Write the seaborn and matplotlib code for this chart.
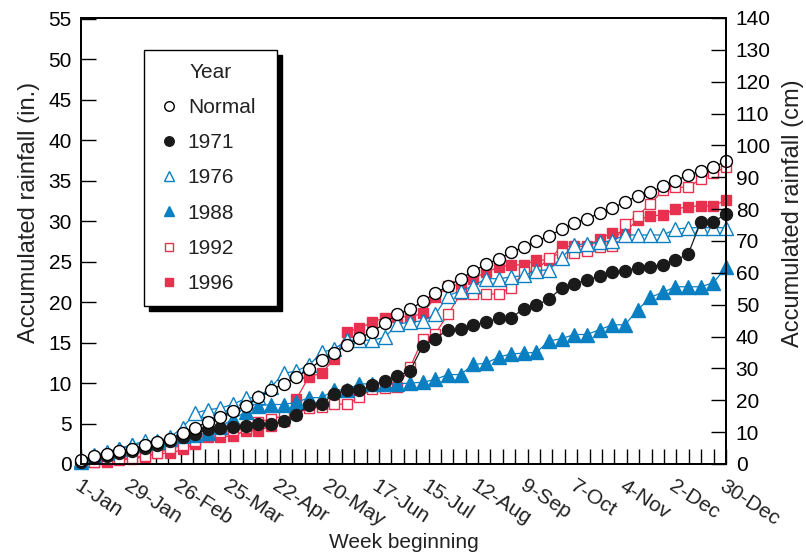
import numpy as np
import pandas as pd
import matplotlib
matplotlib.use("Agg")
import matplotlib.pyplot as plt
from matplotlib.lines import Line2D
import seaborn as sns

# ---------------- data (accumulated rainfall, inches, weekly) ----------------
tick_labels = ["1-Jan", "29-Jan", "26-Feb", "25-Mar", "22-Apr", "20-May", "17-Jun",
               "15-Jul", "12-Aug", "9-Sep", "7-Oct", "4-Nov", "2-Dec", "30-Dec"]

normal = [0.5, 0.93, 1.2, 1.65, 1.9, 2.3, 2.7, 3.1, 3.8, 4.5, 5.2, 5.8, 6.6, 7.2,
          8.25, 9.15, 9.9, 10.7, 11.75, 12.8, 13.7, 14.7, 15.6, 16.3, 17.4, 18.5,
          19.1, 20.1, 21.1, 22.0, 22.9, 23.8, 24.7, 25.3, 26.2, 26.8, 27.5, 28.2,
          29.0, 29.8, 30.3, 31.0, 31.6, 32.4, 33.1, 33.6, 34.3, 35.0, 35.7, 36.2,
          36.7, 37.4]
y1971 = [0.3, 0.7, 1.0, 1.4, 1.6, 2.0, 2.4, 2.8, 3.3, 3.7, 4.3, 4.5, 4.6, 4.75,
         4.9, 4.9, 5.3, 6.0, 7.35, 7.4, 8.7, 9.1, 9.1, 9.7, 10.3, 10.9, 11.5, 14.6,
         15.5, 16.6, 16.7, 17.2, 17.5, 18.05, 18.05, 19.2, 19.6, 20.4, 21.75, 22.3,
         22.7, 23.2, 23.7, 23.9, 24.2, 24.4, 24.6, 25.2, 25.9, 29.9, 29.9, 30.9]
y1976 = [0.5, 1.1, 1.5, 1.9, 2.4, 2.8, 2.8, 3.3, 4.5, 6.3, 6.7, 6.9, 7.4, 8.1,
         8.3, 9.5, 11.2, 11.5, 12.2, 13.8, 14.2, 15.3, 15.3, 15.3, 15.65, 17.3,
         17.5, 17.7, 18.5, 20.8, 21.4, 22.0, 22.9, 22.9, 23.1, 23.3, 23.9, 24.0,
         25.5, 27.1, 27.2, 27.4, 27.6, 28.3, 28.3, 28.3, 28.3, 29.0, 29.2, 29.2,
         29.2, 29.2]
y1988 = [0.3, 1.0, 1.4, 1.8, 2.3, 2.6, 2.7, 3.1, 3.5, 3.6, 3.8, 4.6, 5.6, 6.4,
         7.2, 7.35, 7.35, 7.6, 8.2, 8.2, 9.1, 9.2, 9.9, 9.9, 9.9, 9.9, 10.0, 10.1,
         10.45, 11.05, 11.05, 12.3, 12.45, 13.2, 13.6, 13.7, 13.8, 15.2, 15.5,
         16.0, 16.0, 16.6, 17.2, 17.2, 19.0, 20.6, 21.2, 21.9, 21.9, 21.9, 22.4,
         24.3]
y1992 = [0.1, 0.3, 0.5, 0.65, 0.75, 1.04, 1.3, 1.95, 2.3, 2.8, 3.9, 3.9, 4.2, 4.4,
         5.2, 5.6, 5.9, 6.2, 6.9, 7.0, 7.4, 7.4, 8.25, 9.3, 9.4, 9.5, 11.95, 15.4,
         16.1, 18.5, 21.0, 21.0, 21.0, 21.0, 21.8, 23.7, 23.9, 25.5, 26.1, 26.1,
         26.3, 26.8, 27.0, 29.7, 30.7, 32.1, 33.8, 34.2, 34.2, 35.2, 35.9, 36.7]
y1996 = [0.1, 0.2, 0.3, 0.5, 0.6, 0.9, 1.3, 1.3, 1.8, 2.5, 3.3, 3.3, 3.5, 4.1,
         4.1, 4.7, 5.3, 8.0, 10.8, 11.2, 13.0, 16.3, 16.8, 17.5, 18.1, 18.2, 18.2,
         18.6, 20.6, 22.0, 22.2, 22.9, 23.7, 24.3, 24.6, 24.6, 25.2, 25.2, 26.9,
         26.9, 26.9, 27.8, 28.6, 28.6, 30.2, 30.6, 30.8, 31.5, 31.8, 31.9, 31.9,
         32.6]

series_names = ["Normal", "1971", "1976", "1988", "1992", "1996"]
series_values = [normal, y1971, y1976, y1988, y1992, y1996]

# ---------------- styles ----------------
BLUE = "#0a7fc2"
RED = "#e8304f"
styles = {
    "Normal": dict(color="black", marker="o", mfc="white", ms=8.6),
    "1971":   dict(color="#1a1a1a", marker="o", mfc="#1a1a1a", ms=8.6),
    "1976":   dict(color=BLUE, marker="^", mfc="white", ms=9.8),
    "1988":   dict(color=BLUE, marker="^", mfc=BLUE, ms=9.8),
    "1992":   dict(color=RED, marker="s", mfc="white", ms=7.8),
    "1996":   dict(color=RED, marker="s", mfc=RED, ms=7.8),
}

sns.set_theme(style="white")
plt.rcParams["font.family"] = ["Liberation Sans", "DejaVu Sans"]

fig = plt.figure(figsize=(8.06, 5.55), dpi=100)
ax = fig.add_axes([0.1011, 0.164, 0.7996, 0.8036])

weeks = np.arange(len(normal))
df = pd.DataFrame({"week": np.tile(weeks, len(series_names)),
                   "rain": np.concatenate(series_values),
                   "year": np.repeat(series_names, len(weeks))})

draw_order = ["1996", "1992", "1988", "1976", "1971", "Normal"]
for z, name in enumerate(draw_order):
    st = styles[name]
    sub = df[df["year"] == name]
    sns.lineplot(data=sub, x="week", y="rain", ax=ax, color=st["color"],
                 marker=st["marker"], markersize=st["ms"],
                 markerfacecolor=st["mfc"], markeredgecolor=st["color"],
                 markeredgewidth=1.0, linewidth=0.9, zorder=3 + z,
                 legend=False, clip_on=False)

n_wk = len(normal) - 1
ax.set_xlim(0, n_wk)
ymax_cm = 140
ax.set_ylim(0, ymax_cm / 2.54)
ax.set_yticks(np.arange(0, 56, 5))
ax.set_yticklabels([str(v) for v in range(0, 56, 5)])

major_pos = [n_wk * 4 * i / 52 for i in range(len(tick_labels))]
minor_pos = [n_wk * j / 52 for j in range(53)]
ax.set_xticks(major_pos)
ax.set_xticks(minor_pos, minor=True)
ax.set_xticklabels(tick_labels, rotation=-33, ha="left", va="top",
                   rotation_mode="anchor")

ax.tick_params(axis="x", which="both", direction="in", length=10.8, width=1.0,
               colors="black", labelsize=15, pad=9, bottom=True, top=False)
ax.tick_params(axis="y", which="both", direction="in", length=10.8, width=1.0,
               colors="black", labelsize=15, pad=7, left=True, right=False)
for lab in ax.get_xticklabels():
    lab.set_color("#222222")

for sp in ax.spines.values():
    sp.set_visible(True)
    sp.set_color("black")
    sp.set_linewidth(1.3)

ax.set_xlabel("Week beginning", fontsize=15, color="#222222", labelpad=2)
ax.set_ylabel("Accumulated rainfall (in.)", fontsize=17, color="#222222")
ax.yaxis.set_label_coords(-0.064, 0.563)

ax2 = ax.twinx()
ax2.set_ylim(0, ymax_cm)
ax2.set_yticks(np.arange(0, 141, 10))
ax2.tick_params(axis="y", direction="in", length=10.8, width=1.0, colors="black",
                labelsize=15, pad=7)
ax2.set_ylabel("Accumulated rainfall (cm)", fontsize=17, color="#222222",
               rotation=90)
ax2.yaxis.set_label_coords(1.087, 0.563)
for sp in ax2.spines.values():
    sp.set_visible(True)
    sp.set_color("black")
    sp.set_linewidth(1.3)
ax2.grid(False)
ax.grid(False)

handles = []
for name in series_names:
    st = styles[name]
    handles.append(Line2D([], [], linestyle="none", marker=st["marker"],
                          markersize=st["ms"] * 0.8, markerfacecolor=st["mfc"],
                          markeredgecolor=st["color"], markeredgewidth=1.0,
                          label=name))
leg = ax2.legend(handles=handles, title="Year", loc="upper left",
                 bbox_to_anchor=(0.097, 0.0, 0.2064, 0.928), mode="expand",
                 borderaxespad=0,
                 fontsize=15, title_fontsize=15, frameon=True, fancybox=False,
                 framealpha=1, edgecolor="black", labelspacing=0.78,
                 handletextpad=0.3, handlelength=1.2, borderpad=0.6,
                 shadow={"ox": 3.6, "oy": -3.6, "color": "black", "alpha": 1})
leg.get_frame().set_linewidth(1.0)
for t in leg.get_texts():
    t.set_color("#222222")
leg.get_title().set_color("#222222")

fig.savefig("out.png", dpi=100)
